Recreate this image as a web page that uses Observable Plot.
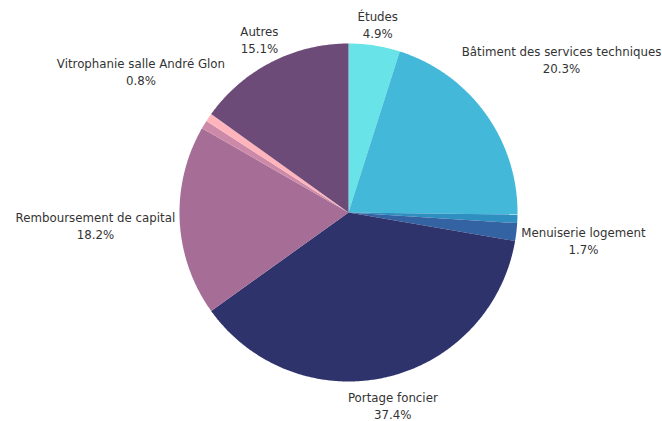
<!DOCTYPE html>
<html><head><meta charset="utf-8">
<script src="https://cdn.jsdelivr.net/npm/d3@7"></script>
<script src="https://cdn.jsdelivr.net/npm/@observablehq/plot@0.6"></script>
<style>body{margin:0;background:#fff}</style>
</head><body><div id="chart"></div>
<script>
// Data (percent of total), clockwise from 12 o'clock
const categories = ["Études", "Bâtiment des services techniques", "Autres travaux bâtiments", "Menuiserie logement", "Portage foncier", "Remboursement de capital", "Divers", "Vitrophanie salle André Glon", "Autres"];
const values = [4.9, 20.3, 0.8, 1.7, 37.4, 18.2, 0.8, 0.8, 15.1];
const showLabel = [true, true, false, true, true, true, false, true, true];
const palette = ["#68e3e8", "#43b8d8", "#2f8fc0", "#3463a3", "#2f336c", "#a66e96", "#cd8aa8", "#ffb5bb", "#6d4b78"];

const FONT = "DejaVu Sans";
const FS = 11.8;
const R = 169; // pixels per data unit (pie radius)

const total = d3.sum(values);
let acc = 0;
const slices = categories.map((c, i) => {
  const a0 = acc / total * 2 * Math.PI; acc += values[i];
  const a1 = acc / total * 2 * Math.PI;
  return {c, v: values[i], a0, a1, show: showLabel[i]};
});
const pts = [];
for (const s of slices) {
  pts.push({c: s.c, x: 0, y: 0});
  const n = Math.max(2, Math.ceil((s.a1 - s.a0) / (Math.PI / 360)));
  for (let k = 0; k <= n; k++) {
    const a = s.a0 + (s.a1 - s.a0) * k / n;
    pts.push({c: s.c, x: Math.sin(a), y: Math.cos(a)});
  }
  pts.push({c: s.c, x: 0, y: 0});
}

const ctx = document.createElement("canvas").getContext("2d");
ctx.font = `${FS}px "${FONT}"`;
const labels = slices.filter(s => s.show).map(s => {
  const m = (s.a0 + s.a1) / 2;
  const pct = s.v.toFixed(1) + "%";
  const w = Math.max(ctx.measureText(s.c).width, ctx.measureText(pct).width);
  const d = (173 + (w / 2) * Math.abs(Math.sin(m)) + 15 * Math.abs(Math.cos(m))) / R;
  return {x: d * Math.sin(m), y: d * Math.cos(m), text: s.c + "\n" + pct};
});

const chart = Plot.plot({
  width: 662, height: 421,
  marginLeft: 179, marginRight: 145, marginTop: 43, marginBottom: 40,
  x: {domain: [-1, 1], axis: null},
  y: {domain: [-1, 1], axis: null},
  color: {domain: categories, range: palette},
  style: {fontFamily: FONT, background: "#fff", overflow: "visible"},
  marks: [
    Plot.line(pts, {x: "x", y: "y", z: "c", fill: "c", stroke: "none", curve: "linear"}),
    Plot.text(labels, {x: "x", y: "y", text: "text", fill: "#333", fontSize: FS, lineHeight: 1.45, textAnchor: "middle"})
  ]
});
document.getElementById("chart").append(chart);
</script>
</body></html>
